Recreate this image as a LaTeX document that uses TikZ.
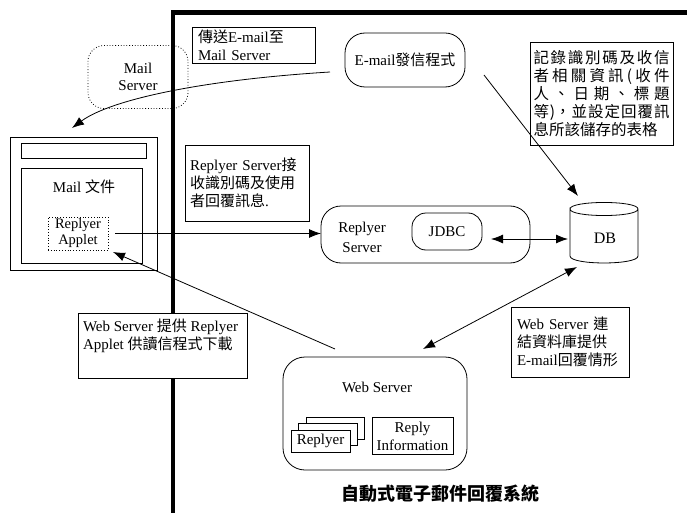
\documentclass[tikz,border=0pt]{standalone}
\usepackage{fontspec}
\setmainfont{Liberation Serif}
\newfontfamily\zh{Noto Sans CJK TC}
\usetikzlibrary{arrows.meta}
\begin{document}
\begin{tikzpicture}[x=1pt,y=-1pt,
  every node/.style={inner sep=0pt, outer sep=0pt},
  txt/.style={font=\fontsize{15}{18}\selectfont, align=left},
  ctxt/.style={font=\fontsize{15}{18}\selectfont, align=center},
  sq/.style={draw, line width=0.8pt, fill=white},
  rnd/.style={draw, line width=0.8pt, rounded corners=18pt},
  dotbox/.style={draw, line width=0.8pt, dotted},
  arr/.style={line width=0.8pt, -{Latex[length=12pt,width=9pt]}},
  darr/.style={line width=0.8pt, {Latex[length=12pt,width=9pt]}-{Latex[length=12pt,width=9pt]}},
  wall/.style={line width=4.5pt}
]
\useasboundingbox (0,0) rectangle (687,513);

% thick boundary
\draw[wall] (173,513) -- (173,12.5) -- (687,12.5);

% Mail server (dotted)
\node[dotbox, rounded corners=16pt, minimum width=100pt, minimum height=63pt, ctxt, font=\fontsize{15}{17}\selectfont] (mailsrv) at (138,77) {Mail\\Server};

% send box
\node[sq, txt, inner xsep=6pt, text width=111pt, minimum height=36pt] (sendbox) at (253.5,45)
  {{\zh 傳送}E-mail{\zh 至}\\Mail Server};

% E-mail program
\node[rnd, rounded corners=20pt, minimum width=120pt, minimum height=54pt, font=\fontsize{15}{18}\selectfont] (prog) at (405,60) {E-mail{\zh 發信程式}};

% record box
\node[sq, align=left, inner xsep=3.5pt, text width=136pt, minimum height=103pt, font=\fontsize{15.5}{18}\selectfont\zh] (recbox) at (601.5,93.5)
  {\makebox[136pt][s]{記\hfil 錄\hfil 識\hfil 別\hfil 碼\hfil 及\hfil 收\hfil 信}\\
   \makebox[136pt][s]{者\hfil 相\hfil 關\hfil 資\hfil 訊\hfil (\hfil 收\hfil 件}\\
   \makebox[136pt][s]{人\hfil 、\hfil 日\hfil 期\hfil 、\hfil 標\hfil 題}\\
   \makebox[136pt][s]{等\hfil )，\hfil 並\hfil 設\hfil 定\hfil 回\hfil 覆\hfil 訊}\\
   息所該儲存的表格};

% mail document
\node[sq, minimum width=147pt, minimum height=133pt] (mailouter) at (83.5,203.5) {};
\node[sq, minimum width=125pt, minimum height=15pt] (bar) at (83.5,150.5) {};
\node[sq, minimum width=121pt, minimum height=95pt] (mailinner) at (81.5,215.5) {};
\node[txt] (mailtxt) at (84,187) {Mail {\zh 文件}};
\node[dotbox, minimum width=60pt, minimum height=33pt, ctxt, font=\fontsize{14.5}{16}\selectfont] (applet) at (78,233.5) {Replyer\\Applet};

% receive box
\node[sq, txt, inner xsep=5pt, text width=114pt, minimum height=76pt] (recvbox) at (247,183)
  {Replyer Server{\zh 接}\\{\zh 收識別碼及使用}\\{\zh 者回覆訊息}.};

% Replyer server
\node[rnd, rounded corners=20pt, minimum width=209pt, minimum height=57pt] (rserver) at (425.5,234.5) {};
\node[ctxt, font=\fontsize{15}{20}\selectfont] (rstxt) at (362,237) {Replyer\\Server};
\node[rnd, rounded corners=14pt, minimum width=70pt, minimum height=37pt, font=\fontsize{15}{18}\selectfont] (jdbc) at (447,231.5) {JDBC};

% DB cylinder
\node[minimum width=68pt, minimum height=62pt] (db) at (604,232) {};
\draw[line width=0.8pt] (570,209) .. controls (570,200.3) and (638,200.3) .. (638,209)
  .. controls (638,217.7) and (570,217.7) .. (570,209) -- (570,256)
  .. controls (570,265.3) and (638,265.3) .. (638,256) -- (638,209);
\node[font=\fontsize{16}{18}\selectfont] (dbtxt) at (605,238) {DB};

% web server
\node[rnd, rounded corners=22pt, minimum width=184pt, minimum height=113pt] (websrv) at (375,413.5) {};
\node[font=\fontsize{15}{18}\selectfont] (wstxt) at (377,387) {Web Server};
\node[sq, minimum width=58pt, minimum height=22pt] (card3) at (335,428) {};
\node[sq, minimum width=59pt, minimum height=22pt] (card2) at (327.5,434) {};
\node[sq, minimum width=59pt, minimum height=22pt, font=\fontsize{15}{18}\selectfont] (card1) at (320.5,441) {Replyer};
\node[sq, minimum width=81pt, minimum height=37pt, ctxt] (replyinfo) at (412.5,436) {Reply\\Information};

% web server box (left)
\node[sq, minimum width=169pt, minimum height=65pt] (webbox) at (162.5,345.5) {};
\node[txt, anchor=north west] (webtxt) at (83,319) {Web Server {\zh 提供} Replyer\\Applet {\zh 供讀信程式下載}};

% db box
\node[sq, txt, inner xsep=6pt, text width=106pt, minimum height=70pt] (dbbox) at (570,342)
  {Web Server {\zh 連}\\{\zh 結資料庫提供}\\E-mail{\zh 回覆情形}};

% title
\node[font=\fontsize{18}{20}\selectfont\zh\bfseries] (title) at (440,494) {自動式電子郵件回覆系統};

% connectors
\draw[arr] ([shift={(-15,12)}]prog.west) .. controls (200,80) and (110,100) .. ([shift={(-11.5,-9)}]mailouter.north);
\draw[arr] ([shift={(19,-12)}]prog.south east) -- ([shift={(8,-5)}]db.north west);
\draw[arr] ([xshift=7pt]applet.east) -- (applet.east -| rserver.west);
\draw[darr] ([shift={(9,7.5)}]jdbc.east) -- ([shift={(-2,7)}]db.west);
\draw[arr] ([shift={(52,-8)}]websrv.north west) -- ([shift={(5,2)}]applet.south east);
\draw[darr] ([shift={(-27,4)}]db.south) -- ([shift={(140,-8)}]websrv.north west);
\end{tikzpicture}
\end{document}
